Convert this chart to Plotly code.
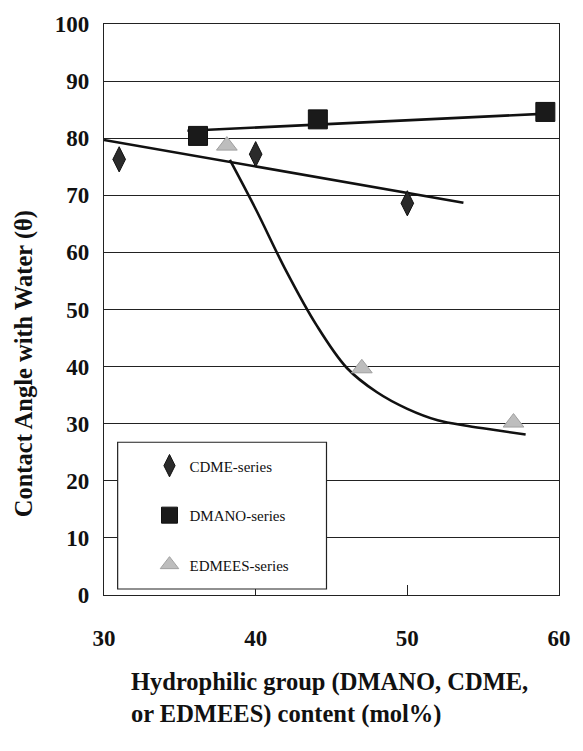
import plotly.graph_objects as go

# ---- data ----
cdme_x = [31.0, 40.0, 50.0]
cdme_y = [76.3, 77.2, 68.6]
dmano_x = [36.2, 44.1, 59.1]
dmano_y = [80.4, 83.3, 84.6]
edmees_x = [38.1, 47.0, 57.0]
edmees_y = [78.7, 39.7, 30.2]

# trend lines as drawn in the picture
cdme_fit_x = [30.0, 53.7]
cdme_fit_y = [79.7, 68.7]
dmano_fit_x = [35.5, 59.2]
dmano_fit_y = [81.3, 84.3]
edmees_fit_x = [38.3, 40.0, 42.0, 44.0, 46.0, 48.0, 50.0, 52.0, 54.0, 56.0, 57.8]
edmees_fit_y = [76.2, 67.6, 56.8, 47.3, 39.8, 35.5, 32.6, 30.6, 29.6, 28.8, 28.1]

x_ticks = [30, 40, 50, 60]
y_ticks = [0, 10, 20, 30, 40, 50, 60, 70, 80, 90, 100]

series_names = ["CDME-series", "DMANO-series", "EDMEES-series"]

FONT = "Liberation Serif, DejaVu Serif"

fig = go.Figure()
for fx, fy, shape in [(cdme_fit_x, cdme_fit_y, "linear"),
                      (dmano_fit_x, dmano_fit_y, "linear"),
                      (edmees_fit_x, edmees_fit_y, "spline")]:
    fig.add_trace(go.Scatter(x=fx, y=fy, mode="lines", showlegend=False,
                             hoverinfo="skip",
                             line=dict(color="#111111", width=2.6, shape=shape,
                                       smoothing=1.0)))

fig.add_trace(go.Scatter(x=cdme_x, y=cdme_y, mode="markers", name=series_names[0],
                         legendgroup="a",
                         marker=dict(symbol="diamond-tall", size=18, color="#2b2b2b",
                                     line=dict(color="#111111", width=1))))
fig.add_trace(go.Scatter(x=dmano_x, y=dmano_y, mode="markers", name=series_names[1],
                         legendgroup="b",
                         marker=dict(symbol="square", size=19, color="#1a1a1a",
                                     line=dict(color="#111111", width=1))))
fig.add_trace(go.Scatter(x=edmees_x, y=edmees_y, mode="markers", name=series_names[2],
                         legendgroup="c",
                         marker=dict(symbol="triangle-up", size=18, color="#bdbdbd",
                                     line=dict(color="#a0a0a0", width=1))))

# legend frame
fig.add_shape(type="rect", xref="paper", yref="paper",
              x0=0.030, x1=0.489, y0=0.0105, y1=0.2675,
              fillcolor="white", line=dict(color="#222222", width=1.2),
              layer="above")

fig.update_layout(
    width=583, height=751,
    margin=dict(l=104, r=15, t=23, b=156),
    paper_bgcolor="white", plot_bgcolor="white",
    font=dict(family=FONT, color="#111111"),
    showlegend=True,
    legend=dict(x=0.1, y=0.255, xanchor="left", yanchor="top",
                bgcolor="rgba(0,0,0,0)", borderwidth=0,
                tracegroupgap=27,
                font=dict(family=FONT, size=15, color="#111111")),
    xaxis=dict(range=[30, 60], tickvals=x_ticks, ticktext=[str(v) for v in x_ticks],
               showgrid=False, zeroline=False,
               showline=True, linecolor="#222222", linewidth=1.2, mirror=True,
               ticks="inside", ticklen=10, tickcolor="#222222",
               ticklabelstandoff=22,
               tickfont=dict(family=FONT, size=23, weight="bold")),
    yaxis=dict(range=[0, 100], tickvals=y_ticks, ticktext=[str(v) for v in y_ticks],
               showgrid=True, gridcolor="#222222", gridwidth=1.2, zeroline=False,
               showline=True, linecolor="#222222", linewidth=1.2, mirror=True,
               ticks="", ticklabelstandoff=9,
               tickfont=dict(family=FONT, size=23, weight="bold")),
)

fig.add_annotation(xref="paper", yref="paper", x=-0.177, y=0.405,
                   text="Contact Angle with Water (θ)", textangle=-90,
                   showarrow=False, xanchor="center", yanchor="middle",
                   font=dict(family=FONT, size=24.5, weight="bold"))
fig.add_annotation(xref="paper", yref="paper", x=0.054, y=-0.125,
                   text="Hydrophilic group (DMANO, CDME,<br>or EDMEES) content (mol%)",
                   showarrow=False, xanchor="left", yanchor="top", align="left",
                   font=dict(family=FONT, size=24.5, weight="bold"))

fig.write_html("out.html")
